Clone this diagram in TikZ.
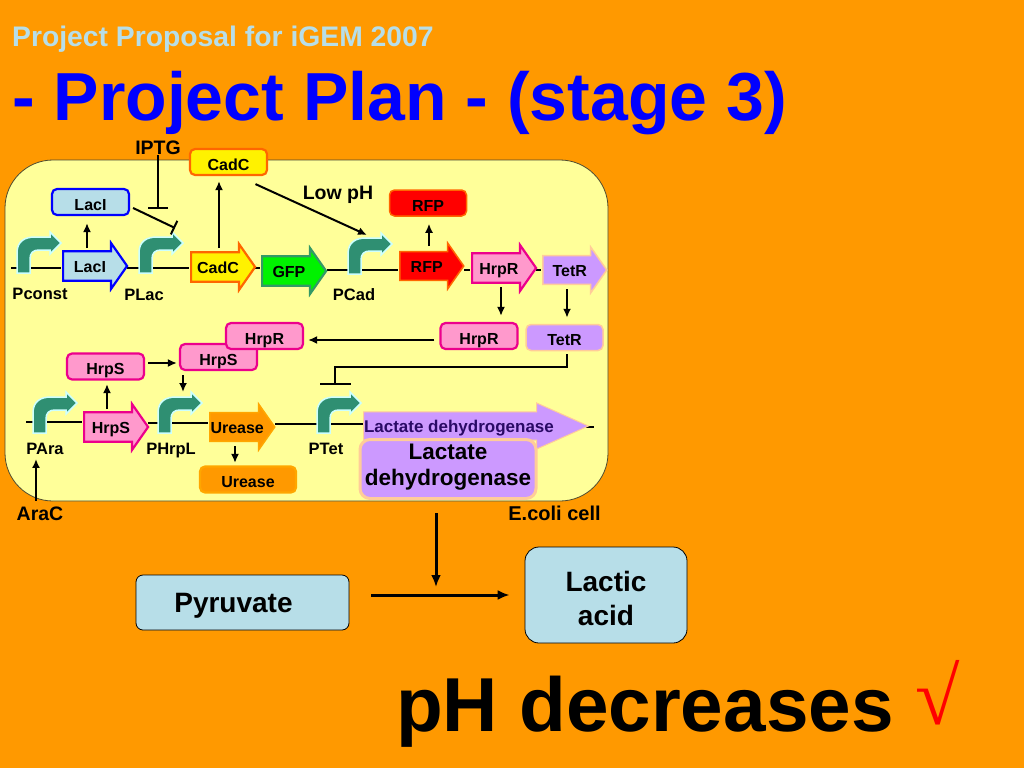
\documentclass[tikz,border=0pt]{standalone}
\usepackage{fontspec}
\setmainfont{Liberation Sans}
\newfontfamily\rootfont{Liberation Serif}
\usetikzlibrary{shapes.arrows,arrows.meta}
\definecolor{slidebg}{HTML}{FF9900}
\definecolor{cellbg}{HTML}{FFFF99}
\definecolor{lacfill}{HTML}{B7DEE8}
\definecolor{hrpfill}{HTML}{FF99CC}
\definecolor{tetfill}{HTML}{CC99FF}
\definecolor{tetline}{HTML}{FFCC99}
\definecolor{prograin}{HTML}{2F8F72}
\definecolor{prohalo}{HTML}{CCFFFF}
\definecolor{gfpline}{HTML}{339966}
\definecolor{rfpline}{HTML}{FF6600}
\definecolor{ldhtext}{HTML}{2A0A66}
\tikzset{
	protein/.style = {draw, rounded corners=5pt, line width=2.2pt, minimum width=77pt, minimum height=26pt, inner sep=0pt, font=\fontsize{16}{18}\selectfont\bfseries, text height=16pt, text depth=-4pt},
	gene/.style = {draw, single arrow, single arrow head extend=4pt, single arrow tip angle=110, line width=2.2pt, minimum height=64pt, minimum width=46pt, inner sep=0pt, anchor=tail, font=\fontsize{16}{18}\selectfont\bfseries, text height=12pt, text depth=0pt},
	site/.style = {font=\fontsize{16.5}{18}\selectfont\bfseries, inner sep=0pt},
	sign/.style = {font=\fontsize{19.5}{22}\selectfont\bfseries, inner sep=0pt},
	dna/.style = {line width=2pt},
	act/.style = {line width=2pt, -{Latex[length=9pt,width=8pt]}},
	inhib/.style = {line width=2pt, -{Bar[width=20pt,line width=2pt]}},
	big/.style = {draw=black, fill=lacfill, rounded corners=7pt, line width=0.8pt, inner sep=0pt, align=center, font=\fontsize{28}{34}\selectfont\bfseries},
	thick arrow/.style = {line width=3pt, -{Latex[length=12pt,width=10pt]}},
	promoter/.pic = {
		\fill[prograin, draw=prohalo, line width=1.5pt] (0,0) -- (0,-20) .. controls (0,-32) and (8,-36) .. (18,-36) -- (33,-36) -- (33,-41) -- (44,-30) -- (33,-19) -- (33,-23) -- (22,-23) .. controls (16,-23) and (13,-20) .. (13,-14) -- (13,0) -- cycle;
		\coordinate (-top) at (25,-41);
	}
}
\begin{document}
\begin{tikzpicture}[x=1pt, y=-1pt]
	\useasboundingbox (0,0) rectangle (1024,768);
	\fill[slidebg] (0,0) rectangle (1024,768);
	\node[anchor=base west, inner sep=0pt, text=lacfill, font=\fontsize{28.3}{30}\selectfont\bfseries] (kicker) at (12,47) {Project Proposal for iGEM 2007};
	\node[anchor=base west, inner sep=0pt, text=blue, font=\fontsize{68}{70}\selectfont\bfseries] (title) at (12,120) {- Project Plan - (stage 3)};
	\draw[draw=black!60!olive, fill=cellbg, rounded corners=48pt, line width=0.8pt] (5,160) rectangle (608,501);

	\draw[dna] (11,268) -- (61,268);
	\draw[dna] (127,268) -- (189,268);
	\draw[dna] (255,268) -- (260,268);
	\draw[dna] (327,270) -- (398,270);
	\draw[dna] (464,270) -- (470,270);
	\draw[dna] (536,270) -- (541,270);
	\draw[dna] (26,422) -- (82,422);
	\draw[dna] (148,423) -- (208,423);
	\draw[dna] (275,424) -- (363,424);
	\draw[dna] (586,427) -- (594,427);

	\pic (pconst) at (17,273) {promoter};
	\pic (plac) at (139,273) {promoter};
	\pic (pcad) at (348,274) {promoter};
	\pic (para) at (33,433) {promoter};
	\pic (phrpl) at (158,433) {promoter};
	\pic (ptet) at (317,433) {promoter};

	\node[gene, draw=blue, fill=lacfill] (lacIgene) at (62,266) {LacI};
	\node[gene, draw=orange!80!red, fill=yellow] (cadCgene) at (190,267) {CadC};
	\node[gene, draw=gfpline, fill=green!95!black] (gfpgene) at (261,271) {GFP};
	\node[gene, draw=rfpline, fill=red, line width=1.5pt] (rfpgene) at (399,266) {RFP};
	\node[gene, draw=magenta, fill=hrpfill] (hrpRgene) at (471,268) {HrpR};
	\node[gene, draw=tetline, fill=tetfill, line width=1.5pt] (tetRgene) at (542,270) {TetR};
	\node[gene, draw=magenta, fill=hrpfill] (hrpSgene) at (83,427) {HrpS};
	\node[gene, draw=orange!70!yellow, fill=slidebg, line width=1.5pt] (ureasegene) at (209,427) {Urease};
	\node[gene, draw=tetline, fill=tetfill, minimum height=217pt, single arrow tip angle=48, line width=1pt, text=ldhtext, font=\fontsize{17}{18}\selectfont\bfseries] (ldhgene) at (363,426) {Lactate dehydrogenase\kern2pt};

	\node[protein, draw=orange!80!red, fill=yellow] (cadCbox) at (228.5,162) {CadC};
	\node[protein, draw=blue, fill=lacfill] (lacIbox) at (90.5,202) {LacI};
	\node[protein, draw=rfpline, fill=red, line width=1.5pt] (rfpbox) at (428,203) {RFP};
	\node[protein, draw=magenta, fill=hrpfill] (hrpRbox) at (479,336) {HrpR};
	\node[protein, draw=tetline, fill=tetfill, line width=1.5pt] (tetRbox) at (564.5,337.5) {TetR};
	\node[protein, draw=magenta, fill=hrpfill] (hrpSbox) at (105.5,366.5) {HrpS};
	\node[protein, draw=magenta, fill=hrpfill] (hrpStwo) at (218.5,357) {HrpS};
	\node[protein, draw=magenta, fill=hrpfill] (hrpRtwo) at (264.5,336) {HrpR};
	\node[protein, draw=orange!70!yellow, fill=slidebg, minimum width=96pt] (ureasebox) at (248,479.5) {Urease};
	\node[protein, draw=tetline, fill=tetfill, line width=3pt, rounded corners=10pt, minimum width=176pt, minimum height=59pt, align=center, text height=, text depth=8pt, font=\fontsize{22.5}{26}\selectfont\bfseries] (ldhbox) at (448,469) {Lactate\\dehydrogenase};

	\node[site] (pconstlabel) at (40,294) {Pconst};
	\node[site] (placlabel) at (144,295) {PLac};
	\node[site] (pcadlabel) at (354,295) {PCad};
	\node[site] (paralabel) at (45,449) {PAra};
	\node[site] (phrpllabel) at (171,451) {PHrpL};
	\node[site] (ptetlabel) at (326,449) {PTet};
	\node[sign] (iptg) at (158,148) {IPTG};
	\node[sign] (lowph) at (338,195) {Low pH};
	\node[sign] (arac) at (40,514) {AraC};
	\node[sign, font=\fontsize{20}{22}\selectfont\bfseries] (ecoli) at (554.5,513) {E.coli cell};

	\coordinate (iptgbar) at (158,209);
	\coordinate (placbar) at (175,228);
	\coordinate (ptetbar) at (335,385);
	\draw[inhib] (iptg.south) -- (iptgbar);
	\draw[inhib, -{Bar[width=15pt,line width=2pt]}] ([xshift=3pt,yshift=-6pt]lacIbox.east) -- (placbar);
	\draw[act] ([xshift=25pt,yshift=18pt]lacIgene.tail) -- ([xshift=25pt,yshift=-7pt]lacIgene.tail |- lacIbox.south);
	\draw[act] ([xshift=29pt,yshift=19pt]cadCgene.tail) -- ([xshift=29pt,yshift=-5pt]cadCgene.tail |- cadCbox.south);
	\draw[act] ([xshift=27pt,yshift=-8pt]cadCbox.south) -- ([xshift=-6pt,yshift=-2pt]pcad-top);
	\draw[act] ([xshift=30pt,yshift=20pt]rfpgene.tail) -- ([xshift=30pt,yshift=-7pt]rfpgene.tail |- rfpbox.south);
	\draw[act] ([xshift=30pt,yshift=-19pt]hrpRgene.tail) -- ([xshift=30pt,yshift=6pt]hrpRgene.tail |- hrpRbox.north);
	\draw[act] ([xshift=25pt,yshift=-19pt]tetRgene.tail) -- ([xshift=25pt,yshift=6pt]tetRgene.tail |- tetRbox.north);
	\draw[act] ([xshift=-5pt,yshift=-4pt]hrpRbox.west) -- ([xshift=4pt,yshift=-4pt]hrpRtwo.east);
	\draw[inhib, -{Bar[width=31pt,line width=2pt]}] ([xshift=2.5pt,yshift=-3pt]tetRbox.south) -- ++(0,13) -| (ptetbar);
	\draw[act] ([xshift=24pt,yshift=18pt]hrpSgene.tail) -- ([xshift=24pt,yshift=-3.5pt]hrpSgene.tail |- hrpSbox.south);
	\draw[act] ([xshift=3pt,yshift=3.5pt]hrpSbox.east) -- ([xshift=-2pt,yshift=-6pt]hrpStwo.west);
	\draw[act] ([yshift=-4pt]phrpl-top |- hrpStwo.south) -- (phrpl-top);
	\draw[act] ([xshift=26pt,yshift=-19pt]ureasegene.tail) -- ([xshift=26pt,yshift=2.5pt]ureasegene.tail |- ureasebox.north);
	\draw[act] ([xshift=-4pt,yshift=6pt]arac.north) -- ([xshift=-4pt,yshift=-4pt]arac.north |- paralabel.south);

	\node[big, minimum width=213pt, minimum height=55pt, text depth=-4pt] (pyruvate) at (242.5,602.5) {Pyruvate\kern18pt};
	\node[big, minimum width=162pt, minimum height=96pt, rounded corners=14pt] (lactic) at (606,595) {\rule{0pt}{27pt}Lactic\\acid};
	\draw[thick arrow] ([xshift=22pt]pyruvate.east |- lactic.west) -- ([xshift=-15pt]lactic.west);
	\draw[thick arrow] ([xshift=-12pt,yshift=-13pt]ldhbox.south) -- ([xshift=-12pt,yshift=-87pt]ldhbox.south);

	\node[anchor=base west, inner sep=0pt, font=\fontsize{76.5}{80}\selectfont\bfseries] (phtext) at (396,731) {pH decreases};
	\node[anchor=base west, inner sep=0pt, text=red, font=\rootfont\fontsize{81}{84}\selectfont] (tick) at (915,724) {√};
\end{tikzpicture}
\end{document}
